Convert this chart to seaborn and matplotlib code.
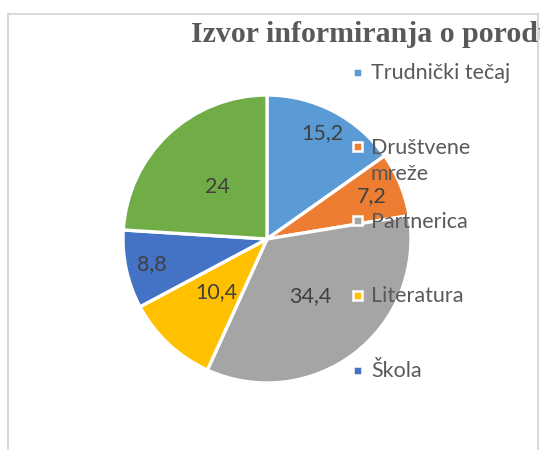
import matplotlib
matplotlib.use("Agg")
import matplotlib.pyplot as plt
from matplotlib.patches import Rectangle
import numpy as np
import seaborn as sns

sns.set_theme(style="white")
plt.rcParams['font.family'] = ['Lato', 'DejaVu Sans']

# data
categories = ["Trudnički tečaj", "Društvene mreže", "Partnerica", "Literatura", "Škola", "Ostalo"]
values = [15.2, 7.2, 34.4, 10.4, 8.8, 24]
legend_labels = ["Trudnički tečaj", "Društvene\nmreže", "Partnerica", "Literatura", "Škola"]
title = "Izvor informiranja o porodu"

# styles
colors = ["#5B9BD5", "#ED7D31", "#A5A5A5", "#FFC000", "#4472C4", "#70AD47"]
label_radius = [0.83, 0.79, 0.5, 0.51, 0.82, 0.5]

W, H = 540, 450
fig = plt.figure(figsize=(W / 100, H / 100), dpi=100)
fig.patch.set_facecolor("white")

# chart frame
fig.add_artist(Rectangle((8 / W, -0.1), 530 / W, 1.1 - 14 / H, transform=fig.transFigure,
                         fill=False, edgecolor="#D9D9D9", linewidth=1.5))

cx, cy, r = 267, 239, 144
ax = fig.add_axes([(cx - r) / W, (H - cy - r) / H, 2 * r / W, 2 * r / H])
wedges, _ = ax.pie(values, colors=colors, startangle=90, counterclock=False,
                   wedgeprops=dict(edgecolor="white", linewidth=2.4))
ax.set_xlim(-1, 1)
ax.set_ylim(-1, 1)
ax.set_aspect("equal")
ax.axis("off")

for w, v, rf in zip(wedges, values, label_radius):
    ang = np.deg2rad((w.theta1 + w.theta2) / 2)
    txt = f"{v:g}".replace(".", ",")
    ax.text(rf * np.cos(ang), rf * np.sin(ang), txt, ha="center", va="center",
            fontsize=15.5, color="#404040")

fig.text(191 / W, 1 - 42 / H, title, ha="left", va="baseline",
         fontfamily="Liberation Serif", fontweight="bold", fontsize=21.5, color="#595959")

# legend (only the first five entries are visible in the reference)
y0, pitch, ms = 72, 74.5, 9
for i, (lab, col) in enumerate(zip(legend_labels, colors)):
    y = y0 + i * pitch
    fig.add_artist(Rectangle(((357.5 - ms / 2) / W, 1 - (y + ms / 2) / H), ms / W, ms / H,
                             transform=fig.transFigure, facecolor=col,
                             edgecolor="white", linewidth=1.8))
    for k, line in enumerate(lab.split("\n")):
        fig.text(371 / W, 1 - (y + 7 + 26 * k) / H, line, ha="left", va="baseline",
                 fontsize=15.5, color="#595959")

fig.savefig("out.png", dpi=100)
